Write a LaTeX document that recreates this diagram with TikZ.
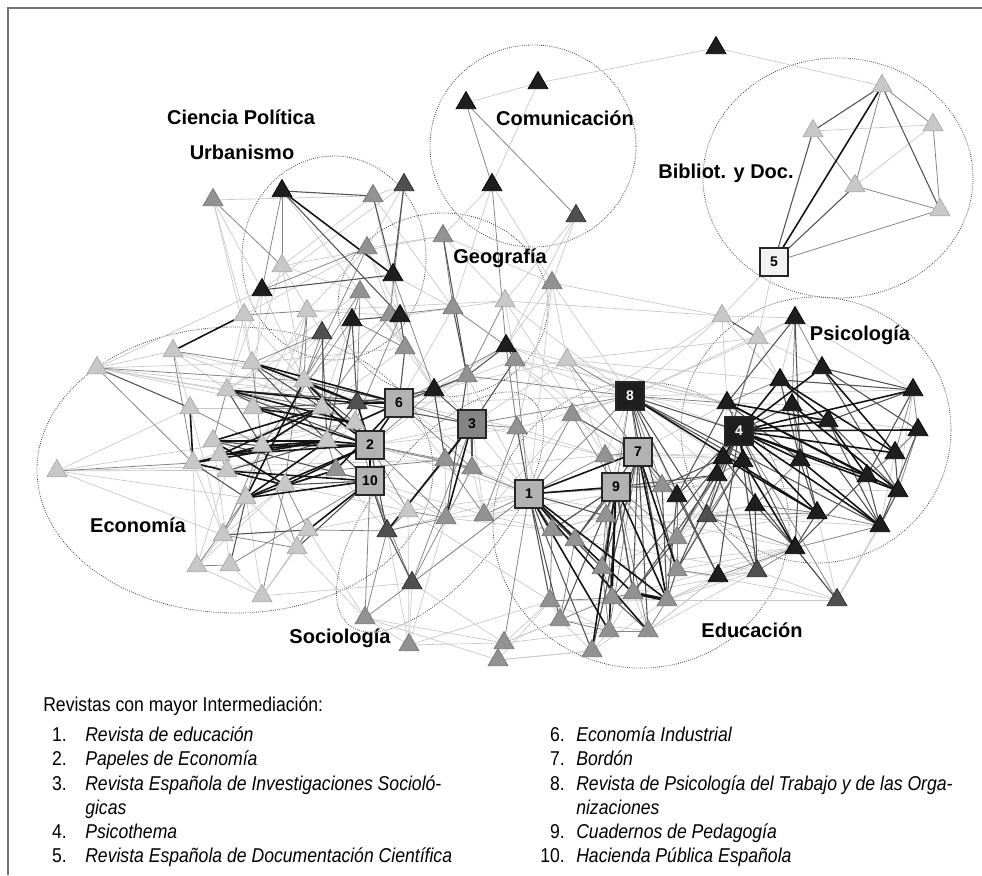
\documentclass[tikz,border=0pt]{standalone}
\usepackage{fontspec}
\setmainfont{Liberation Sans}
\newfontfamily\cond[FakeStretch=0.88]{Liberation Sans}
\usetikzlibrary{shapes.geometric,backgrounds}
\definecolor{cb}{HTML}{1E1E1E}
\definecolor{cd}{HTML}{505050}
\definecolor{cm}{HTML}{929292}
\definecolor{cl}{HTML}{C8C8C8}
\tikzset{
  tri/.style={regular polygon, regular polygon sides=3, minimum size=17.25pt, inner sep=0pt, line width=0.5pt, yshift=-2.2pt},
  tb/.style={tri, fill=cb, draw=black},
  td/.style={tri, fill=cd, draw=black!85},
  tm/.style={tri, fill=cm, draw=black!55},
  tl/.style={tri, fill=cl, draw=black!35},
  bx/.style={rectangle, minimum size=21pt, inner sep=0pt, draw=black!85, line width=1.1pt, font=\bfseries\fontsize{10.5}{12}\selectfont},
  bg/.style={bx, fill=black!30},
  bgd/.style={bx, fill=black!48},
  bk/.style={bx, fill=cb, text=white},
  bw/.style={bx, fill=black!5},
  eK/.style={line width=1.2pt, draw=black!92},
  eD/.style={line width=0.8pt, draw=black!68},
  eM/.style={line width=0.6pt, draw=black!48},
  eL/.style={line width=0.5pt, draw=black!22},
  grp/.style={densely dotted, line width=0.6pt, draw=black!75},
  lab/.style={font=\bfseries\fontsize{15}{18}\selectfont, inner sep=1pt},
  itm/.style={font=\cond\itshape\fontsize{15}{18}\selectfont, inner sep=0pt, anchor=base west},
  num/.style={font=\cond\fontsize{15}{18}\selectfont, inner sep=0pt, anchor=base east},
}
\begin{document}
\begin{tikzpicture}[x=0.75pt,y=-0.75pt]
\useasboundingbox (0,0) rectangle (982,875);
% frame
\draw[line width=1.1pt, draw=black!55] (8,875) -- (8,8) -- (982,8);

% ---------------- nodes ----------------
% Economia
\foreach \n/\x/\y in {e1/97/365, e2/173/348, e3/57/468, e4/190/405, e5/193/460, e6/213/438, e7/220/452, e8/227/468, e9/227/387, e10/252/360, e11/253/405, e12/262/443, e13/246/495, e14/285/482, e15/304/378, e16/322/405, e17/327/438, e18/355/420, e21/223/532, e22/308/527, e23/297/545, e24/197/563, e25/230/562, e26/262/593, e27/244/312, e28/307/308}
  \node[tl] (\n) at (\x,\y) {};
\node[tm] (e19) at (336,467) {};
\node[td] (e20) at (357,400) {};
% Urbanismo / Ciencia Politica
\foreach \n/\x/\y in {u1/213/197, u3/373/193, u5/367/245, u9/360/289, u10/443/233}
  \node[tm] (\n) at (\x,\y) {};
\foreach \n/\x/\y in {u2/282/188, u6/393/272, u8/262/287}
  \node[tb] (\n) at (\x,\y) {};
\node[td] (u4) at (404,182) {};
\node[tl] (u7) at (282,263) {};
% Geografia
\foreach \n/\x/\y in {g1/453/305, g3/552/280, g5/515/357, g6/467/373, g9/390/312, g11/405/345}
  \node[tm] (\n) at (\x,\y) {};
\foreach \n/\x/\y in {g4/506/343, g7/434/387, g8/400/313, g10/352/317}
  \node[tb] (\n) at (\x,\y) {};
\node[tl] (g2) at (505,298) {};
\node[tl] (g13) at (567,357) {};
\node[td] (g12) at (322,330) {};
% Comunicacion
\foreach \n/\x/\y in {c1/466/100, c2/538/80, c3/492/182, c5/716/45}
  \node[tb] (\n) at (\x,\y) {};
\node[td] (c4) at (576,213) {};
% Bibliot
\foreach \n/\x/\y in {d1/882/83, d2/813/128, d3/933/122, d4/855/183, d5/940/207}
  \node[tl] (\n) at (\x,\y) {};
% Sociologia
\foreach \n/\x/\y in {s1/445/457, s2/472/465, s5/446/515, s6/484/512, s8/365/615, s9/409/642, s10/504/640, s11/498/657, s12/517/425, s13/572/412}
  \node[tm] (\n) at (\x,\y) {};
\node[tl] (s3) at (408,508) {};
\node[td] (s4) at (387,528) {};
\node[td] (s7) at (412,580) {};
% Educacion
\foreach \n/\x/\y in {h1/605/453, h2/662/483, h3/552/527, h4/575/537, h5/606/513, h6/602/565, h7/677/535, h8/677/567, h9/550/598, h10/560/617, h11/612/595, h12/633/590, h13/667/597, h14/609/628, h15/648/628, h16/592/648}
  \node[tm] (\n) at (\x,\y) {};
\node[tl] (h17) at (722,313) {};
\node[tl] (h18) at (758,335) {};
\node[td] (h19) at (707,513) {};
% Psicologia
\foreach \n/\x/\y in {p1/795/315, p2/822/365, p3/780/377, p4/913/387, p5/727/400, p6/792/402, p7/828/418, p8/918/427, p9/800/457, p10/895/450, p11/867/473, p12/898/488, p13/817/510, p14/880/523, p15/795/545, p16/723/455, p17/743/458, p18/717/472, p19/677/493, p20/755/502, p21/718/573}
  \node[tb] (\n) at (\x,\y) {};
\node[td] (p22) at (757,568) {};
\node[td] (p23) at (837,597) {};
% numbered boxes
\node[bg] (b1) at (529,494) {1};
\node[bg] (b2) at (370,445) {2};
\node[bgd] (b3) at (472,424) {3};
\node[bk] (b4) at (739,431) {4};
\node[bw] (b5) at (774,262) {5};
\node[bg] (b6) at (399,403) {6};
\node[bg] (b7) at (638,452) {7};
\node[bk] (b8) at (630,396) {8};
\node[bg] (b9) at (616,487) {9};
\node[bg] (b10) at (370,481) {10};

% ---------------- groups and edges ----------------
\begin{scope}[on background layer]
\draw[grp] (334,258) ellipse [x radius=69pt, y radius=76.5pt];
\draw[grp] (533,146) ellipse [x radius=77.25pt, y radius=75.75pt];
\draw[grp] (838,178) ellipse [x radius=101.25pt, y radius=90pt];
\draw[grp] (443,305) ellipse [x radius=78.75pt, y radius=69pt];
\draw[grp] (235,470) ellipse [x radius=148.5pt, y radius=107.25pt];
\draw[grp, shift={(440,512)}, rotate=51.3] (0,0) ellipse [x radius=108.75pt, y radius=48pt];
\draw[grp] (641,525) ellipse [x radius=111pt, y radius=107.25pt];
\draw[grp] (816,430) ellipse [x radius=101.25pt, y radius=99.75pt];

% light edges
\foreach \a/\b in {u1/u3, u4/u3, u4/u8, u4/u5, u3/u7, u5/e28, u10/u7, e1/e16, e1/e18, e3/e18, e3/e19, e2/e16, e2/b6, e27/e9, e28/e12, e28/e11, e21/e4, e21/e5, e24/e8, e24/e5, e25/e6, e26/e13, e10/g11, e9/u9, e1/e9, e1/u8, c1/c2, c3/c2, c4/g3, c2/c5, c5/d1, d2/d3, d4/d3, b5/h17, b5/h18, g7/g4, g2/g1, g3/g4, g13/g7, g2/b8, g4/b4, g6/b1, g4/p5, g3/h17, g13/p3, b6/b8, b3/h1, b2/b1, u10/g3, s1/s5, s2/s6, s7/s9, s9/s5, s11/h9, s11/s8, s10/h9, s13/s6, h17/p5, p14/p23, s9/s10, s8/s10, e26/s7, e23/s8, g2/h1, g3/b1, u9/b3, e28/g2, e27/u5, g12/u7, h10/s10, h16/s11, h9/h14, p23/h13, p21/h13, h18/b8, p1/h18, p3/h17, e1/b6, e3/s1, b6/b1, g5/b8, b3/b1, s2/b1, g5/p5, b8/p4, b8/p8, b8/p1, h1/p10, h2/p12, h19/p14, h8/p23, b1/p15, s6/h2, u1/e10, u8/e15, u3/g1, g10/e16, e27/e10, e24/e26, e22/s8, s3/s9, s12/h3, b3/g13, h4/p22, p2/h18, u7/e15, e10/e15, e4/e11, e2/e4,
  g1/b6, g2/g5, g3/g13, g3/s12, g4/s12, g5/s13, g6/s2, g7/s1, g11/g7, g9/g11, g8/u5, u9/g11, u6/g9, u6/g1, u3/g8, e28/g9, e15/g9, e16/g11, e18/g7, b6/s1, b6/s12, b2/b3, b10/s5, b10/s3, e14/s3, e22/s3, e19/s4, e17/s1, b2/g6, b3/s6, s2/b7, s6/h3, s5/h3, s6/h5, s12/h1, s13/h2, g5/b7, g13/h1, g13/b7, b8/h1, b8/h5, b8/p19, b8/p16, b8/p18, b7/p5, b7/p16, h1/p9, h5/p13, h4/p20, h3/p19, h6/p15, h7/p13, h8/p15, h11/p22, h13/p22, h15/p21, h16/h10, h14/h16, h9/h10, s10/h14, s11/h16, s10/h10, s9/h9, s8/s9, s7/s10, s4/s9, s3/h9, e22/e26, e23/e26, e21/e24, e25/e26, e3/e13, e3/e21, e1/e2, e1/e10, e2/e9, e27/e15, u7/e10, u8/e9, u8/e11, u1/e27, u1/u8, u2/u9, u7/u9, u10/u5, u10/c3, g1/c3, g2/c4, g3/c3, c4/g4, g13/h18, g13/p5, h17/p3, h17/p1, h18/p3, h17/b8, g3/b8, g2/h17, u10/g2, s12/b8, s13/b8, s13/h17, p1/p3, p1/p4, p2/p3, p4/p12, p8/p11, p9/p11, p10/p14, p12/p23, p13/p23, p15/p23, p21/p22, p20/p13, p19/p18, p18/p16, p17/p20, p16/p17, p5/p16, p5/p6, p6/p7,
  e4/e16, e9/e15, e11/e15, e5/e16, e6/e18, e8/e18, e12/e18, e14/e18, e21/e14, e13/e23, e26/e22, e24/e14, e3/e4, g12/e9, g12/e11, u5/g11, u6/g11, g8/g1, g9/g7, b6/g5, b2/s12, b10/s6, s4/b1, s5/s6, s3/b1, s7/b1, h3/h5, h4/h5, h1/h2, h5/h2, h6/h7, h7/h19, h8/h19, h11/h13, h12/h15, h14/h12, h16/h13, h9/h13, h10/h15, p21/h15, p22/h15, h19/p20, h2/p16, h7/p17, p23/p22, h12/p15, h13/p15}
  \draw[eL] (\a) -- (\b);

% medium edges
\foreach \a/\b in {u2/u7, u2/u8, u1/u7, u4/g9, e27/e28, e28/e14, e1/e15, e1/e5, e2/e10, e2/e5, e21/e12, e23/e12, e24/e13, e25/b10, e26/e14, b2/s1, b2/s3, b6/b3, e18/s4, b10/s7, e16/g12, e15/g12, g9/e16, c1/c3, c1/c4, c3/g4, b3/s7, s12/b3, s12/g4, s12/s6, s13/b1, s4/s1, s4/s5, s4/s8, s3/s5, s8/s7, s10/b1, s6/b1, s1/b1, d1/d3, d1/d4, d2/d4, d3/d5, d4/d5, b5/d5, g13/b8, b3/b8, g6/b8, h1/b7, h1/b9, h2/b7, h3/h9, h4/h10, h5/h11, h6/h14, h7/h8, h8/p21, h7/p18, h19/p22, h19/p15, h18/p18, h18/p16, p23/p16, p23/b4, p22/b4, p1/p6, p4/p8, p8/p10, p10/p11, e4/e12, e9/e16, e10/e12, e11/e16, u9/e20, u5/u8, u6/g7, g10/g11, g2/g6, g1/g4, u10/g1, e3/e5, b10/s8, b2/s5, e22/s4, h5/b9, h1/h5, s13/b9, b8/p5, b8/h2, b1/s7, h16/b7, h14/b7, h15/b9, h3/b9, p21/p15, p22/p15, e6/e9, e8/e14, e7/e12, e16/e18, g8/e18, g10/e12, s2/s5, s1/s6, h6/h11, h10/h14, h2/p18, h19/p16, p1/p2, p3/p5, p6/p9, p11/p12, p13/p14, p4/p10, p8/p12, b7/b8,
  b1/h2, b1/h1, b1/b8, b1/g5, b9/b8, b7/g13, b9/h2, b9/h8, b9/h7, h5/h6, h3/h4, h4/h6, h9/h11, h10/h11, h11/h12, h13/h15, h15/h14, s1/s2, s2/b3, s5/s7, s3/s4, e17/e19, e14/e19, e12/e13, e5/e8, e7/e8, e21/e23, e22/e23, e24/e25, e13/e21, e14/e22, e19/s1, e18/e20, g6/g7, g1/g9, g10/u9, g12/e10, e28/e15, u5/e15, u9/e15, b6/s2, b2/s2, b6/g4, b2/g7, p19/h7, p19/h2, p17/p18, p9/p20, p13/p20, p14/p15, h19/b4, h19/p17, h19/p13}
  \draw[eM] (\a) -- (\b);

% dark edges
\foreach \a/\b in {u2/u3, u3/u6, u8/u6, u2/g8, u10/g6, u4/u6, e21/e22, g8/g11, g10/e20, g12/e17, g7/b3, g4/g5, g4/g6, g5/b3, g1/g6, g11/b6, b6/g6, e20/g7, b10/s4, b3/s2, s4/s7, e23/b10, e25/e13, b5/d2, d2/d1, d1/d5, b5/d4, b1/h3, b1/h4, b1/h6, b1/h9, b1/h10, b1/h16, b1/h5, b9/h6, b9/h12, b7/h12, b7/h4, b8/h19, b8/p17, b8/p21, b8/b4, s13/b7, h17/h18, p1/p5, p1/p9, p2/p4, p2/p8, p3/p4, p7/p4, p7/p12, p9/p15, p10/p12, p11/p14, p13/p15, p16/p23, p18/p22, p19/p21, p20/p22, p5/p19, p18/b9, p19/b7, p17/h8, p16/h2, p9/p13, p12/p14, b4/p20, b4/p15, b4/p18, b4/p19, b4/p6, b4/p5, p6/p14, p8/p14, p4/p11, b8/p14, p20/p15, h2/h13, h7/h12, b7/h15, b9/h10, e1/e4, e9/e17, e10/e17, e6/b10, e8/e17, e11/e20, e15/e18, g8/g10, s12/b1, h11/h15, h12/b9, h8/h13,
  e5/e13, e6/e12, e10/e16, e9/e12, e15/e16, b2/e18, b10/e17, b10/e14, b6/e15, b6/e9, b2/e9, g10/e17, e20/e17, s4/b2, s1/b3, b3/e20, g7/s1, g6/s5, b9/h4, b7/h6, b9/h3, b7/h16, b8/h13, b8/h8, p19/h13, p18/h12, p16/h11, b4/h8, b4/h7, b4/h19, b4/p21, b4/p22, p5/p9, p3/p9, p6/p13, p7/p14, p2/p12, p11/p15}
  \draw[eD] (\a) -- (\b);

% black edges
\foreach \a/\b in {u2/u6, e2/e27, e4/e5, e5/e12, e5/e17, e6/e17, e7/b2, e9/e20, e10/e20, e10/b6, e11/b2, e12/b2, e12/e17, e13/b2, e13/e17, e14/e6, e14/b2, e15/b2, e15/e20, e16/b2, e16/e7, e17/b2, e18/b6, e19/e13, e20/b2, e5/e14, e8/b10, e13/b10, e22/b10, e13/e15, e6/e16, e9/e18, e12/e16, e7/e17, b2/b10, b2/b6, e20/b6, e19/b6, e11/e18, b3/s5, b3/s4, b1/b9, b1/b7, b1/h15, b1/h14, b1/h13, b1/h12, b9/h13, b7/h8, b9/h16, b9/h11, b9/h14, b7/h13, b4/p2, b4/p3, b4/p7, b4/p8, b4/p11, b4/p10, b4/p14, b4/p12, b4/p9, b4/p16, b4/p17, b4/p13, b4/p4, p5/p7, p3/p10, p5/p11, p6/p12, p9/p14, p17/p15, p16/p13, p3/p7, p2/p10, p5/p12, p7/p11, b5/d1, b8/p13}
  \draw[eK] (\a) -- (\b);
\draw[eK, line width=2.4pt] (h12) -- (h13);
\end{scope}

% ---------------- group labels ----------------
\node[lab] (lCP) at (241,117) {Ciencia Política};
\node[lab] (lUrb) at (242,152) {Urbanismo};
\node[lab] (lCom) at (565,118) {Comunicación};
\node[lab] (lBib) at (726,173) {Bibliot. y Doc.};
\node[lab] (lGeo) at (500,258) {Geografía};
\node[lab] (lPsi) at (860,335) {Psicología};
\node[lab] (lEco) at (138,525) {Economía};
\node[lab] (lSoc) at (340,638) {Sociología};
\node[lab] (lEdu) at (752,630) {Educación};

% ---------------- legend ----------------
\node[font=\cond\fontsize{15}{18}\selectfont, inner sep=0pt, anchor=base west] (hd) at (43,711) {Revistas con mayor Intermediación:};
\node[num] (n1) at (67,741) {1.};   \node[itm] (t1) at (85,741) {Revista de educación};
\node[num] (n2) at (67,765) {2.};   \node[itm] (t2) at (85,765) {Papeles de Economía};
\node[num] (n3) at (67,790) {3.};   \node[itm] (t3) at (85,790) {Revista Española de Investigaciones Socioló-};
\node[itm] (t3b) at (85,814) {gicas};
\node[num] (n4) at (67,838) {4.};   \node[itm] (t4) at (85,838) {Psicothema};
\node[num] (n5) at (67,862) {5.};   \node[itm] (t5) at (85,862) {Revista Española de Documentación Científica};
\node[num] (n6) at (565,741) {6.};  \node[itm] (t6) at (576,741) {Economía Industrial};
\node[num] (n7) at (565,765) {7.};  \node[itm] (t7) at (576,765) {Bordón};
\node[num] (n8) at (565,790) {8.};  \node[itm] (t8) at (576,790) {Revista de Psicología del Trabajo y de las Orga-};
\node[itm] (t8b) at (576,814) {nizaciones};
\node[num] (n9) at (565,838) {9.};  \node[itm] (t9) at (576,838) {Cuadernos de Pedagogía};
\node[num] (n10) at (565,862) {10.}; \node[itm] (t10) at (576,862) {Hacienda Pública Española};
\end{tikzpicture}
\end{document}
